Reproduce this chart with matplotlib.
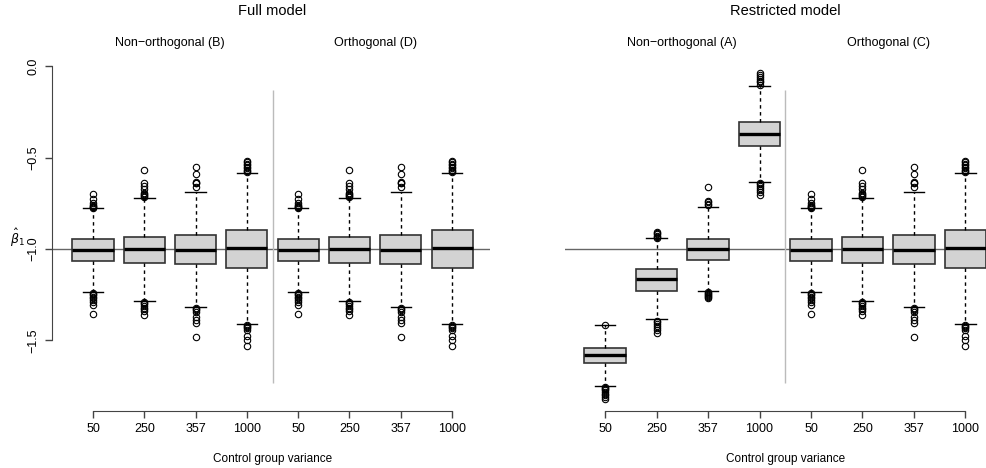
import numpy as np
import matplotlib
matplotlib.use("Agg")
import matplotlib.pyplot as plt

plt.rcParams['font.family'] = ['Liberation Sans', 'DejaVu Sans']

# Control group variances (x tick labels)
variances = ['50', '250', '357', '1000']

# Orthogonal-type pattern (full model B, full model D, restricted model C look the same)
orth_med = [-1.005, -0.998, -1.007, -0.993]
orth_q1 = [-1.064, -1.077, -1.083, -1.104]
orth_q3 = [-0.947, -0.934, -0.922, -0.895]
orth_lo = [-1.237, -1.286, -1.317, -1.410]
orth_hi = [-0.778, -0.720, -0.689, -0.585]
orth_out = [
    [-0.700, -0.728, -0.749, -0.760, -0.765, -0.768, -0.772, -0.775,
     -1.240, -1.245, -1.250, -1.260, -1.270, -1.280, -1.290, -1.305, -1.355],
    [-0.568, -0.638, -0.656, -0.674, -0.692, -0.700, -0.707, -0.712, -0.718,
     -1.290, -1.295, -1.300, -1.310, -1.320, -1.330, -1.340, -1.360],
    [-0.550, -0.592, -0.632, -0.638, -0.641, -0.659,
     -1.324, -1.328, -1.333, -1.343, -1.370, -1.388, -1.402, -1.482],
    [-0.517, -0.525, -0.533, -0.541, -0.550, -0.558, -0.566, -0.572, -0.577,
     -1.415, -1.420, -1.425, -1.430, -1.443, -1.474, -1.500, -1.530],
]

# Restricted model, non-orthogonal (A)
a_med = [-1.579, -1.166, -1.000, -0.372]
a_q1 = [-1.623, -1.228, -1.060, -0.437]
a_q3 = [-1.541, -1.111, -0.944, -0.308]
a_lo = [-1.749, -1.384, -1.230, -0.632]
a_hi = [-1.415, -0.942, -0.769, -0.111]
a_out = [
    [-1.415, -1.752, -1.758, -1.765, -1.772, -1.780, -1.790, -1.800, -1.810, -1.820],
    [-0.905, -0.912, -0.920, -0.928, -0.935, -0.942,
     -1.392, -1.400, -1.410, -1.420, -1.430, -1.445, -1.457],
    [-0.660, -0.738, -0.745, -0.752, -0.760,
     -1.233, -1.240, -1.245, -1.250, -1.255, -1.260, -1.266],
    [-0.040, -0.050, -0.060, -0.070, -0.080, -0.090, -0.104,
     -0.638, -0.645, -0.655, -0.665, -0.680, -0.690, -0.705],
]


def make_stats(med, q1, q3, lo, hi, out):
    return [dict(med=med[i], q1=q1[i], q3=q3[i], whislo=lo[i], whishi=hi[i],
                 fliers=np.array(out[i])) for i in range(len(med))]


orth = make_stats(orth_med, orth_q1, orth_q3, orth_lo, orth_hi, orth_out)
restr_a = make_stats(a_med, a_q1, a_q3, a_lo, a_hi, a_out)

W, H = 987, 468
fig = plt.figure(figsize=(W / 100, H / 100), dpi=100)

top_px, bot_px = 60, 411
ylim = (-(bot_px - 66) / 183, -(top_px - 66) / 183)


def panel(left_px, right_px, x0_px, step_px, stats, title, sub_left, sub_right, show_y):
    ax = fig.add_axes([left_px / W, (H - bot_px) / H, (right_px - left_px) / W,
                       (bot_px - top_px) / H])
    ax.set_xlim(1 + (left_px - x0_px) / step_px, 1 + (right_px - x0_px) / step_px)
    ax.set_ylim(*ylim)

    ax.axhline(-1, color='#666666', lw=1, zorder=1)
    ax.vlines(4.5, -1.73, -0.13, color='#BBBBBB', lw=1, zorder=1)

    ax.bxp(stats, positions=range(1, 9), widths=0.8, patch_artist=True,
           boxprops=dict(facecolor='#D3D3D3', edgecolor='#333333', lw=1.2),
           medianprops=dict(color='black', lw=2.4),
           whiskerprops=dict(color='black', lw=1, ls=(0, (2.5, 2.5))),
           capprops=dict(color='black', lw=1),
           flierprops=dict(marker='o', mfc='none', mec='black', ms=4.6, mew=0.8),
           manage_ticks=False, zorder=2)

    for s in ['top', 'right']:
        ax.spines[s].set_visible(False)
    ax.spines['bottom'].set_bounds(1, 8)
    ax.spines['bottom'].set_color('#444444')
    ax.set_xticks(range(1, 9))
    ax.set_xticklabels(variances * 2)
    ax.tick_params(axis='x', length=5, width=1, color='#444444', pad=4, labelsize=9)

    if show_y:
        ax.spines['left'].set_bounds(-1.5, 0)
        ax.spines['left'].set_color('#444444')
        ax.set_yticks([0, -0.5, -1.0, -1.5])
        ax.set_yticklabels(['0.0', '\u22120.5', '\u22121.0', '\u22121.5'])
        ax.tick_params(axis='y', length=5, width=1, color='#444444', pad=4,
                       labelsize=9, labelrotation=90)
        for lbl in ax.get_yticklabels():
            lbl.set_va('center')
        fig.text(17 / W, 1 - 238 / H, r'$\hat{\beta}_1$', ha='center', va='center',
                 fontsize=9)
    else:
        ax.spines['left'].set_visible(False)
        ax.set_yticks([])

    tr = ax.get_xaxis_transform()
    span = bot_px - top_px
    ax.text(4.5, (bot_px - 11) / span, title, transform=tr, ha='center',
            va='center', fontsize=10.5)
    ax.text(2.5, (bot_px - 43) / span, sub_left, transform=tr, ha='center',
            va='center', fontsize=9)
    ax.text(6.5, (bot_px - 43) / span, sub_right, transform=tr, ha='center',
            va='center', fontsize=9)
    ax.text(4.5, (bot_px - 459) / span, 'Control group variance', transform=tr,
            ha='center', va='center', fontsize=8.5)
    return ax


panel(52, 490, 93, 51.3, orth + orth, 'Full model',
      'Non\u2212orthogonal (B)', 'Orthogonal (D)', True)
panel(565, 987, 605, 51.5, restr_a + orth, 'Restricted model',
      'Non\u2212orthogonal (A)', 'Orthogonal (C)', False)

fig.savefig('out.png', dpi=100)
